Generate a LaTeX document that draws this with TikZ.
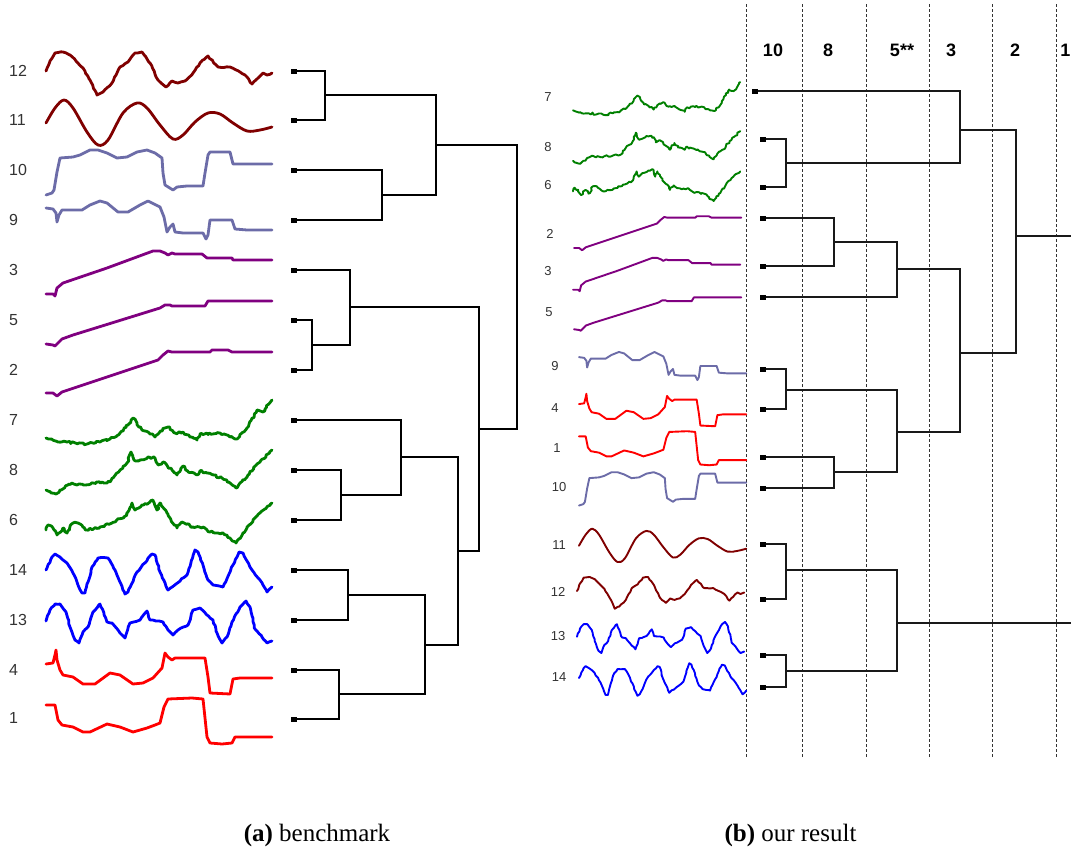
\documentclass[tikz,border=0pt]{standalone}
\usepackage{fontspec}
\setmainfont{Liberation Serif}
\newfontfamily\arialfont{Liberation Sans}
\usetikzlibrary{decorations.pathmorphing}

\definecolor{wine}{RGB}{128,0,0}
\definecolor{slate}{RGB}{108,108,168}
\definecolor{plum}{RGB}{128,0,128}
\definecolor{grass}{RGB}{0,128,0}
\definecolor{pureblue}{RGB}{0,0,255}
\definecolor{purered}{RGB}{255,0,0}

% time series shapes, x from 0 to 226, y relative to the row (downwards positive)
\newcommand\serTwelve[1]{\draw[#1] plot coordinates {(0,0) (4,-10) (9,-18) (17,-19) (24,-16) (30,-10) (37,-3) (44,9) (51,24) (57,21) (66,12) (74,-4) (82,-9) (89,-18) (96,-19) (104,-8) (112,9) (120,16) (126,10) (132,12) (139,10) (147,2) (154,-8) (162,-15) (172,-4) (184,-4) (194,1) (199,4) (206,13) (211,8) (217,2) (221,4) (226,2)};}
\newcommand\serEleven[1]{\draw[#1] plot[smooth,tension=0.55] coordinates {(0,3) (9,-12) (18,-20) (27,-12) (41,12) (52,25) (62,20) (77,-7) (91,-17) (101,-12) (114,5) (127,19) (137,15) (149,2) (162,-7) (174,-6) (187,3) (201,11) (214,10) (226,7)};}
\newcommand\serTen[1]{\draw[#1] plot coordinates {(0,25) (6,23) (8,20) (11,2) (14,-12) (27,-13) (34,-15) (44,-20) (52,-20) (61,-17) (71,-12) (81,-13) (91,-18) (101,-20) (109,-17) (116,-12) (117,3) (119,15) (127,20) (131,17) (141,16) (157,16) (159,3) (162,-15) (164,-18) (184,-18) (187,-6) (201,-6) (226,-6)};}
\newcommand\serNine[1]{\draw[#1] plot coordinates {(0,-12) (7,-11) (10,-7) (11,2) (13,-5) (16,-10) (36,-10) (44,-15) (54,-19) (61,-17) (72,-8) (82,-8) (94,-15) (102,-19) (114,-13) (118,-3) (121,12) (124,7) (127,4) (129,12) (137,13) (146,13) (157,13) (160,19) (162,15) (164,0) (186,0) (189,9) (201,10) (226,10)};}
\newcommand\serThree[1]{\draw[#1] plot coordinates {(0,24) (7,24) (9,26) (11,18) (17,13) (61,-2) (107,-19) (114,-19) (119,-17) (122,-15) (126,-17) (129,-16) (156,-16) (161,-12) (186,-12) (187,-10) (226,-10)};}
\newcommand\serFive[1]{\draw[#1] plot coordinates {(0,24) (7,25) (9,26) (16,19) (27,15) (114,-12) (119,-15) (124,-15) (126,-14) (159,-14) (162,-19) (226,-19)};}
\newcommand\serTwo[1]{\draw[#1] plot coordinates {(0,23) (7,23) (11,26) (16,22) (112,-10) (117,-15) (122,-19) (126,-18) (164,-18) (166,-20) (182,-20) (186,-18) (226,-18)};}
\newcommand\serSeven[1]{\draw[#1] plot coordinates {(0,18) (12,22) (21,22) (41,24) (54,22) (64,19) (74,13) (82,5) (87,-2) (91,3) (96,10) (102,12) (109,17) (114,11) (122,7) (129,13) (137,12) (144,17) (151,20) (154,14) (174,13) (184,17) (191,19) (201,8) (211,-10) (217,-8) (226,-20)};}
\newcommand\serEight[1]{\draw[#1] plot coordinates {(0,20) (10,24) (14,20) (26,13) (37,15) (56,12) (64,12) (71,3) (77,-2) (81,-7) (85,-18) (88,-10) (94,-10) (102,-13) (109,-12) (112,-5) (117,-8) (126,0) (131,5) (137,-4) (142,2) (151,5) (154,1) (161,3) (176,8) (184,13) (190,18) (194,13) (202,5) (214,-8) (226,-20)};}
\newcommand\serSix[1]{\draw[#1] plot coordinates {(0,10) (2,5) (7,8) (11,15) (17,8) (21,13) (27,3) (32,3) (41,10) (54,7) (66,3) (81,-5) (86,-17) (89,-10) (96,-15) (104,-18) (107,-20) (111,-10) (114,-17) (121,-7) (131,8) (136,2) (147,7) (157,7) (164,12) (177,13) (184,18) (190,23) (197,13) (207,0) (226,-17)};}
\newcommand\serFourteen[1]{\draw[#1] plot coordinates {(0,0) (6,-13) (9,-16) (14,-13) (21,-7) (27,3) (36,23) (39,23) (46,-3) (52,-12) (62,-12) (69,0) (79,24) (82,22) (91,2) (106,-16) (109,-15) (114,2) (122,20) (141,5) (149,-20) (152,-18) (162,10) (167,15) (177,17) (187,-5) (193,-18) (197,-17) (206,0) (214,10) (221,22) (226,17)};}
\newcommand\serThirteen[1]{\draw[#1] plot coordinates {(0,1) (4,-10) (9,-16) (14,-16) (20,-8) (24,7) (29,20) (33,23) (37,12) (42,7) (47,-8) (54,-16) (61,2) (66,3) (74,13) (79,18) (84,3) (94,0) (101,-9) (104,0) (117,2) (122,10) (127,15) (132,10) (142,5) (147,-10) (154,-12) (167,0) (171,13) (176,23) (181,17) (186,2) (194,-13) (200,-19) (204,-13) (209,9) (216,17) (221,23) (226,21)};}
\newcommand\serFour[1]{\draw[#1] plot coordinates {(0,-6) (7,-7) (9,-15) (10,-20) (11,-10) (14,0) (17,5) (27,7) (37,14) (49,14) (64,3) (74,5) (87,14) (97,13) (107,8) (116,-2) (119,-17) (122,-13) (126,-10) (129,-12) (159,-12) (162,7) (164,23) (184,24) (187,9) (194,8) (226,8)};}
\newcommand\serOne[1]{\draw[#1] plot coordinates {(0,-13) (9,-13) (12,2) (16,7) (27,9) (37,14) (44,14) (61,6) (74,9) (87,14) (101,10) (109,7) (114,5) (118,-11) (122,-19) (146,-20) (157,-19) (161,19) (164,25) (176,26) (186,25) (189,19) (226,19)};}

\begin{document}
\pgfmathsetseed{11}
\begin{tikzpicture}[x=1pt,y=-1pt,
  tsa/.style={line width=2.8pt,line join=round,line cap=round},
  tsb/.style={line width=1.9pt,line join=round,line cap=round},
  jitter/.style={decorate,decoration={random steps,segment length=2pt,amplitude=1.1pt}},
  wobble/.style={decorate,decoration={random steps,segment length=3pt,amplitude=0.5pt}},
  laba/.style={font=\arialfont\fontsize{16}{18}\selectfont,text=black!80,inner sep=0pt},
  labb/.style={font=\arialfont\fontsize{13}{15}\selectfont,text=black!80,inner sep=0pt},
  head/.style={font=\arialfont\bfseries\fontsize{18}{20}\selectfont,inner sep=0pt},
  captxt/.style={font=\fontsize{25}{30}\selectfont,inner sep=0pt},
  sqa/.style={fill=black,minimum width=6pt,minimum height=5pt,inner sep=0pt},
  sqb/.style={fill=black,minimum width=5.5pt,minimum height=5pt,inner sep=0pt},
  linka/.style={line width=2.8pt,black},
  linkb/.style={line width=2.2pt,black!90},
  level/.style={densely dashed,line width=0.8pt,black!80}]
\useasboundingbox (0,0) rectangle (1071,857);
\fill[white] (0,0) rectangle (1071,857);
\clip (0,0) rectangle (1071,857);

% ---------- (a) benchmark ----------
\node[laba,anchor=west] (la12) at (9,71) {12};
\node[laba,anchor=west] (la11) at (9,120) {11};
\node[laba,anchor=west] (la10) at (9,170) {10};
\node[laba,anchor=west] (la9) at (9,220) {9};
\node[laba,anchor=west] (la3) at (9,270) {3};
\node[laba,anchor=west] (la5) at (9,320) {5};
\node[laba,anchor=west] (la2) at (9,370) {2};
\node[laba,anchor=west] (la7) at (9,420) {7};
\node[laba,anchor=west] (la8) at (9,470) {8};
\node[laba,anchor=west] (la6) at (9,520) {6};
\node[laba,anchor=west] (la14) at (9,570) {14};
\node[laba,anchor=west] (la13) at (9,620) {13};
\node[laba,anchor=west] (la4) at (9,670) {4};
\node[laba,anchor=west] (la1) at (9,718) {1};

\begin{scope}[shift={(46,71)}]\serTwelve{tsa,wine,wobble}\end{scope}
\begin{scope}[shift={(46,120)}]\serEleven{tsa,wine}\end{scope}
\begin{scope}[shift={(46,170)}]\serTen{tsa,slate}\end{scope}
\begin{scope}[shift={(46,220)}]\serNine{tsa,slate}\end{scope}
\begin{scope}[shift={(46,270)}]\serThree{tsa,plum}\end{scope}
\begin{scope}[shift={(46,320)}]\serFive{tsa,plum}\end{scope}
\begin{scope}[shift={(46,370)}]\serTwo{tsa,plum}\end{scope}
\begin{scope}[shift={(46,420)}]\serSeven{tsa,grass,jitter}\end{scope}
\begin{scope}[shift={(46,470)}]\serEight{tsa,grass,jitter}\end{scope}
\begin{scope}[shift={(46,520)}]\serSix{tsa,grass,jitter}\end{scope}
\begin{scope}[shift={(46,570)}]\serFourteen{tsa,pureblue,wobble}\end{scope}
\begin{scope}[shift={(46,620)}]\serThirteen{tsa,pureblue,wobble}\end{scope}
\begin{scope}[shift={(46,670)}]\serFour{tsa,purered}\end{scope}
\begin{scope}[shift={(46,718)}]\serOne{tsa,purered}\end{scope}

\node[sqa] (a12) at (294,71) {};
\node[sqa] (a11) at (294,120) {};
\node[sqa] (a10) at (294,170) {};
\node[sqa] (a9) at (294,220) {};
\node[sqa] (a3) at (294,270) {};
\node[sqa] (a5) at (294,320) {};
\node[sqa] (a2) at (294,370) {};
\node[sqa] (a7) at (294,420) {};
\node[sqa] (a8) at (294,470) {};
\node[sqa] (a6) at (294,520) {};
\node[sqa] (a14) at (294,570) {};
\node[sqa] (a13) at (294,620) {};
\node[sqa] (a4) at (294,670) {};
\node[sqa] (a1) at (294,719) {};

\coordinate (aA) at (325,95);
\coordinate (aB) at (382,195);
\coordinate (aC) at (436,145);
\coordinate (aD) at (312,345);
\coordinate (aE) at (350,307);
\coordinate (aF) at (341,495);
\coordinate (aG) at (401,457);
\coordinate (aH) at (348,595);
\coordinate (aI) at (339,694);
\coordinate (aJ) at (425,645);
\coordinate (aK) at (458,551);
\coordinate (aL) at (479,429);
\coordinate (aR) at (517,287);

\draw[linka] (a12) -| (aA) |- (a11);
\draw[linka] (a10) -| (aB) |- (a9);
\draw[linka] (aA) -| (aC) |- (aB);
\draw[linka] (a5) -| (aD) |- (a2);
\draw[linka] (a3) -| (aE) |- (aD);
\draw[linka] (a8) -| (aF) |- (a6);
\draw[linka] (a7) -| (aG) |- (aF);
\draw[linka] (a14) -| (aH) |- (a13);
\draw[linka] (a4) -| (aI) |- (a1);
\draw[linka] (aH) -| (aJ) |- (aI);
\draw[linka] (aG) -| (aK) |- (aJ);
\draw[linka] (aE) -| (aL) |- (aK);
\draw[linka] (aC) -| (aR) |- (aL);

\node[captxt] (capa) at (317,835) {\textbf{(a)} benchmark};

% ---------- (b) our result ----------
\draw[level] (746,4) -- (746,757);
\draw[level] (802,4) -- (802,757);
\draw[level] (866,4) -- (866,757);
\draw[level] (929,4) -- (929,757);
\draw[level] (992,4) -- (992,757);
\draw[level] (1056,4) -- (1056,757);

\node[head] (h10) at (773,50) {10};
\node[head] (h8) at (828,50) {8};
\node[head] (h5) at (902,50) {5**};
\node[head] (h3) at (951,50) {3};
\node[head] (h2) at (1015,50) {2};
\node[head,anchor=east] (h1) at (1070.5,50) {1};

\node[labb] (lb7) at (548,97) {7};
\node[labb] (lb8) at (548,147) {8};
\node[labb] (lb6) at (548,185) {6};
\node[labb] (lb2) at (550,234) {2};
\node[labb] (lb3) at (548,271) {3};
\node[labb] (lb5) at (549,312) {5};
\node[labb] (lb9) at (555,366) {9};
\node[labb] (lb4) at (555,408) {4};
\node[labb] (lb1) at (557,448) {1};
\node[labb] (lb10) at (559,487) {10};
\node[labb] (lb11) at (559,545) {11};
\node[labb] (lb12) at (558,592) {12};
\node[labb] (lb13) at (558,636) {13};
\node[labb] (lb14) at (559,677) {14};

\begin{scope}[shift={(573,97)},scale=0.74]\serSeven{tsb,grass,jitter}\end{scope}
\begin{scope}[shift={(573,146)},scale=0.74]\serEight{tsb,grass,jitter}\end{scope}
\begin{scope}[shift={(573,184)},scale=0.74]\serSix{tsb,grass,jitter}\end{scope}
\begin{scope}[shift={(574,231)},scale=0.74]\serTwo{tsb,plum}\end{scope}
\begin{scope}[shift={(573,272)},scale=0.74]\serThree{tsb,plum}\end{scope}
\begin{scope}[shift={(574,311.5)},scale=0.74]\serFive{tsb,plum}\end{scope}
\begin{scope}[shift={(579,366)},scale=0.74]\serNine{tsb,slate}\end{scope}
\begin{scope}[shift={(579,408.5)},scale=0.74]\serFour{tsb,purered}\end{scope}
\begin{scope}[shift={(579,446)},scale=0.74]\serOne{tsb,purered}\end{scope}
\begin{scope}[shift={(579,487)},scale=0.74]\serTen{tsb,slate}\end{scope}
\begin{scope}[shift={(579,543.5)},scale=0.74]\serEleven{tsb,wine}\end{scope}
\begin{scope}[shift={(577,591)},scale=0.74]\serTwelve{tsb,wine,wobble}\end{scope}
\begin{scope}[shift={(577,636)},scale=0.74]\serThirteen{tsb,pureblue,wobble}\end{scope}
\begin{scope}[shift={(579,678)},scale=0.74]\serFourteen{tsb,pureblue,wobble}\end{scope}

\node[sqb] (b7) at (755,91) {};
\node[sqb] (b8) at (763,139) {};
\node[sqb] (b6) at (763,187) {};
\node[sqb] (b2) at (763,218) {};
\node[sqb] (b3) at (763,266) {};
\node[sqb] (b5) at (763,297) {};
\node[sqb] (b9) at (763,369) {};
\node[sqb] (b4) at (763,409) {};
\node[sqb] (b1) at (763,457) {};
\node[sqb] (b10) at (763,488) {};
\node[sqb] (b11) at (763,544) {};
\node[sqb] (b12) at (763,599) {};
\node[sqb] (b13) at (763,655) {};
\node[sqb] (b14) at (763,687) {};

\coordinate (bA) at (786,163);
\coordinate (bB) at (960,130);
\coordinate (bC) at (834,242);
\coordinate (bD) at (897,269);
\coordinate (bE) at (786,390);
\coordinate (bF) at (834,472);
\coordinate (bG) at (897,432);
\coordinate (bH) at (960,353);
\coordinate (bI) at (1016,236);
\coordinate (bJ) at (786,570);
\coordinate (bK) at (786,671);
\coordinate (bL) at (897,623);
\coordinate (bIout) at (1080,236);
\coordinate (bLout) at (1080,623);

\draw[linkb] (b8) -| (bA) |- (b6);
\draw[linkb] (b7) -| (bB) |- (bA);
\draw[linkb] (b2) -| (bC) |- (b3);
\draw[linkb] (bC) -| (bD) |- (b5);
\draw[linkb] (b9) -| (bE) |- (b4);
\draw[linkb] (b1) -| (bF) |- (b10);
\draw[linkb] (bE) -| (bG) |- (bF);
\draw[linkb] (bD) -| (bH) |- (bG);
\draw[linkb] (bB) -| (bI) |- (bH);
\draw[linkb] (bI) -- (bIout);
\draw[linkb] (b11) -| (bJ) |- (b12);
\draw[linkb] (b13) -| (bK) |- (b14);
\draw[linkb] (bJ) -| (bL) |- (bK);
\draw[linkb] (bL) -- (bLout);

\node[captxt] (capb) at (790.5,835) {\textbf{(b)} our result};
\end{tikzpicture}
\end{document}
